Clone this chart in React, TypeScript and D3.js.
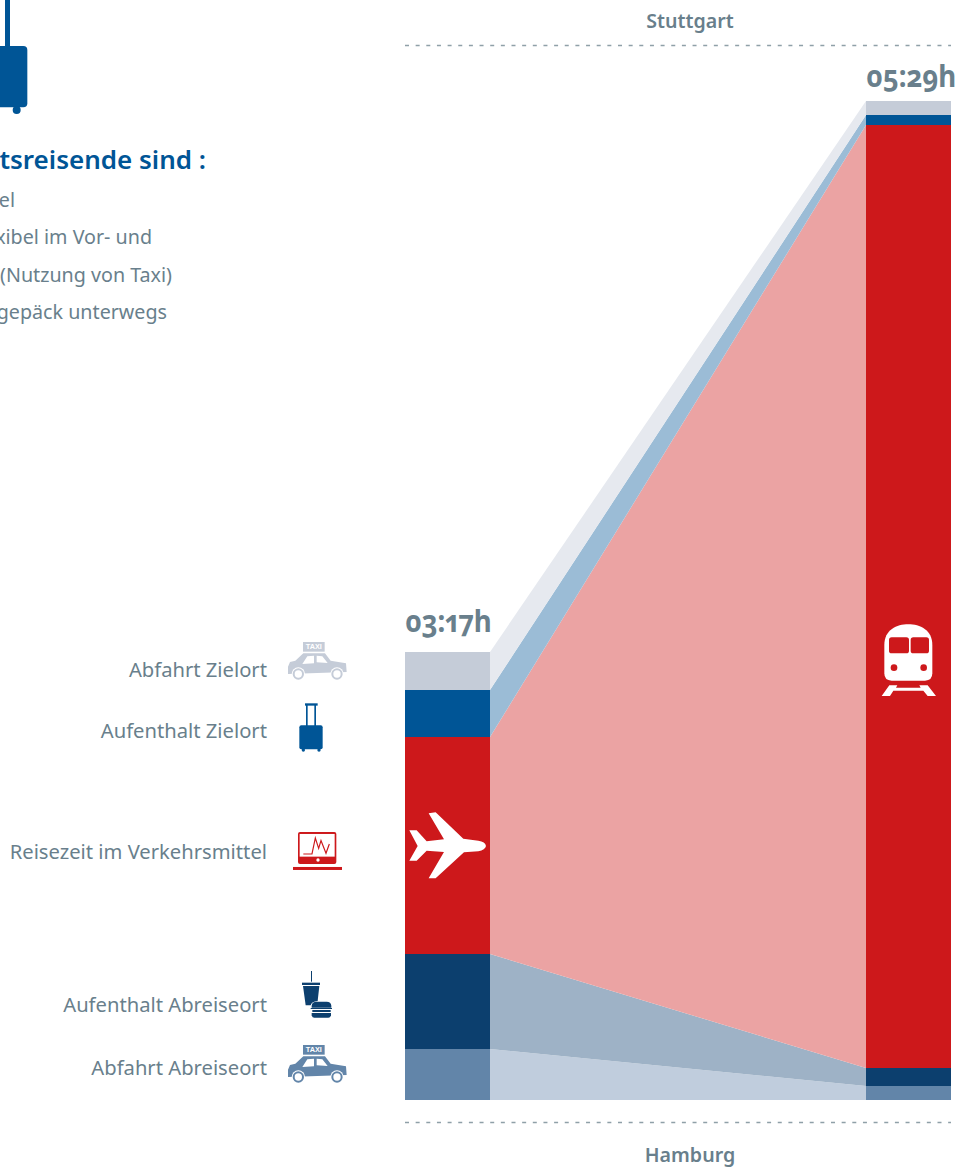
import React from "react";
import * as d3 from "d3";

const W = 956;
const H = 1167;

// Stack order, bottom to top, in the height units drawn in the picture
const segments = ["Abfahrt Abreiseort", "Aufenthalt Abreiseort", "Reisezeit im Verkehrsmittel", "Aufenthalt Zielort", "Abfahrt Zielort"];
const flightHeights = [51, 95, 217, 47, 38];
const trainHeights = [14, 18, 943, 10, 14];
const barColors = ["#6285a9", "#0c3f6e", "#cd181b", "#005596", "#c5ccd8"];
const bandColors = ["#c0cddd", "#9eb2c6", "#eba3a3", "#9bbcd6", "#e6e9ef"];
const modes = ["flight", "train"];
const durations = ["03:17h", "05:29h"];
const cities = ["Stuttgart", "Hamburg"];
const headline = "tsreisende sind :";
const bullets = ["el", "xibel im Vor- und", "(Nutzung von Taxi)", "gepäck unterwegs"];

const TEXT = "#697f8c";
const FONT = "'Noto Sans', Lato, sans-serif";

const barW = 85;
const xLeft = (m: string) => (m === "flight" ? 405 : 866);
const y = d3.scaleLinear().domain([0, 999]).range([1100, 101]);

const stackEdges = (vals: number[]) => [0, ...d3.cumsum(vals)];
const flightEdges = stackEdges(flightHeights);
const trainEdges = stackEdges(trainHeights);

const bandArea = d3
  .area<{ x: number; lo: number; hi: number }>()
  .x((d) => d.x)
  .y0((d) => y(d.lo))
  .y1((d) => y(d.hi));

const Z = "translate(270,600) scale(0.3333)";

function Car({ color, dy = 0 }: { color: string; dy?: number }) {
  return (
    <g transform={`translate(270,${600 + dy}) scale(0.3333)`}>
      <rect x={99} y={126} width={65} height={29} fill={color} />
      <text x={131.5} y={148} textAnchor="middle" fontSize={22} fontWeight={700} fill="#fff" fontFamily="Liberation Sans">TAXI</text>
      <path d="M54,200 L60,186 L76,182 L100,160 L165,160 L182,182 L228,190 L230,216 L54,222 Z" fill={color} />
      <path d="M97,192 L112,169 L132,167 L132,190 Z M140,167 L157,169 L173,189 L140,187 Z" fill="#fff" />
      {[85, 201].map((cx) => (
        <g key={cx}>
          <circle cx={cx} cy={222} r={20} fill="#fff" />
          <circle cx={cx} cy={222} r={17} fill={color} />
          <circle cx={cx} cy={222} r={11} fill="#fff" />
        </g>
      ))}
    </g>
  );
}

function Icons() {
  const blue = "#005596";
  const red = "#cd181b";
  const navy = "#0c3f6e";
  return (
    <g>
      <g transform="scale(0.3333)" fill={blue}>
        <rect x={15} y={-10} width={15} height={150} />
        <rect x={-60} y={138} width={142} height={184} rx={12} />
        <circle cx={50} cy={330} r={12} />
      </g>
      <Car color="#c5ccd8" />
      <Car color="#6285a9" dy={403} />
      <g transform={Z} fill={blue}>
        <rect x={105} y={310} width={38} height={7} />
        <rect x={108} y={312} width={5} height={66} />
        <rect x={133} y={312} width={5} height={66} />
        <rect x={88} y={376} width={70} height={72} rx={6} />
        <circle cx={100} cy={450} r={5} />
        <circle cx={147} cy={450} r={5} />
      </g>
      <g transform={Z}>
        <rect x={69} y={801} width={147} height={9} fill={red} />
        <rect x={84} y={696} width={115} height={96} rx={6} fill={red} />
        <rect x={89} y={702} width={105} height={68} fill="#fff" />
        <circle cx={144} cy={780} r={5} fill="#fff" />
        <path d="M100,762 L126,762 L136,714 L146,745 L153,722 L168,760 L178,732" fill="none" stroke={red} strokeWidth={3.5} />
      </g>
      <g transform="translate(270,940) scale(0.3333)" fill={navy}>
        <rect x={123} y={93} width={3} height={32} />
        <rect x={96} y={128} width={54} height={7} />
        <path d="M99,138 H148 L143,183 Q125,184 122,196 H107 Z" />
        <path d="M125,203 V197 Q126,185 140,185 H170 Q183,185 184,197 V203 Z" />
        <rect x={122} y={204} width={64} height={3} />
        <rect x={127} y={210} width={55} height={6} />
        <path d="M125,219 H183 V226 Q182,233 175,233 H133 Q126,233 125,226 Z" />
      </g>
      <g transform={Z}>
        <path
          d="M648,738 Q646,725 625,722 L580,716 L497,637 L476,640 L522,718 L470,724 L440,691 L418,691 L443,738 L418,782 L440,782 L470,752 L522,756 L476,835 L497,835 L582,757 L625,754 Q646,750 648,738 Z"
          fill="#fff"
        />
      </g>
      <g transform="translate(860,610) scale(0.3333)">
        <path d="M73,105 C73,60 110,43 145,43 C180,43 217,60 217,105 V190 Q217,212 195,212 H95 Q73,212 73,190 Z" fill="#fff" />
        <rect x={87} y={82} width={60} height={48} rx={8} fill={red} />
        <rect x={152} y={82} width={55} height={48} rx={8} fill={red} />
        <circle cx={102} cy={173} r={10} fill={red} />
        <circle cx={191} cy={173} r={10} fill={red} />
        <path d="M65,258 L88,226 L112,226 L108,233 L182,233 L178,226 L203,226 L228,258 L203,258 L190,242 L100,242 L90,258 Z" fill="#fff" />
      </g>
    </g>
  );
}

export default function App() {
  const labelY = [1075, 1012, 859, 738, 677];
  return (
    <svg width={W} height={H} viewBox={`0 0 ${W} ${H}`} style={{ position: "absolute", left: 0, top: 0, background: "#fff" }} fontFamily={FONT}>
      {segments.map((s, i) => (
        <path
          key={s}
          fill={bandColors[i]}
          d={
            bandArea([
              { x: xLeft("flight") + barW, lo: flightEdges[i], hi: flightEdges[i + 1] },
              { x: xLeft("train"), lo: trainEdges[i], hi: trainEdges[i + 1] },
            ]) as string
          }
        />
      ))}
      {modes.map((m) => {
        const edges = m === "flight" ? flightEdges : trainEdges;
        return segments.map((s, i) => (
          <rect key={m + s} x={xLeft(m)} width={barW} y={y(edges[i + 1])} height={y(edges[i]) - y(edges[i + 1])} fill={barColors[i]} />
        ));
      })}
      {[45, 1122].map((ly) => (
        <line key={ly} x1={405} x2={951} y1={ly + 0.5} y2={ly + 0.5} stroke="#8fa0a8" strokeWidth={1.5} strokeDasharray="4 6.65" />
      ))}
      <text x={690} y={28} textAnchor="middle" fontSize={19.6} fontWeight={600} fill={TEXT}>{cities[0]}</text>
      <text x={690} y={1162} textAnchor="middle" fontSize={19.6} fontWeight={600} fill={TEXT}>{cities[1]}</text>
      {durations.map((d, i) => (
        <text
          key={d}
          transform={`translate(${xLeft(modes[i])},${i === 0 ? 632 : 87}) scale(0.92,1)`}
          fontSize={30}
          fontWeight={700}
          fill={TEXT}
          style={{ fontFeatureSettings: "'onum','pnum'" }}
        >
          {d}
        </text>
      ))}
      {segments.map((s, i) => (
        <text key={s} x={267} y={labelY[i]} textAnchor="end" fontSize={20.2} fill={TEXT}>{s}</text>
      ))}
      <text x={206} y={169} textAnchor="end" fontSize={26} fontWeight={600} fill="#005596">{headline}</text>
      {bullets.map((b, i) => (
        <text key={b} x={[15, 152, 172, 167][i]} y={[207, 244, 282, 319][i]} textAnchor="end" fontSize={19.7} fill={TEXT}>{b}</text>
      ))}
      <Icons />
    </svg>
  );
}
